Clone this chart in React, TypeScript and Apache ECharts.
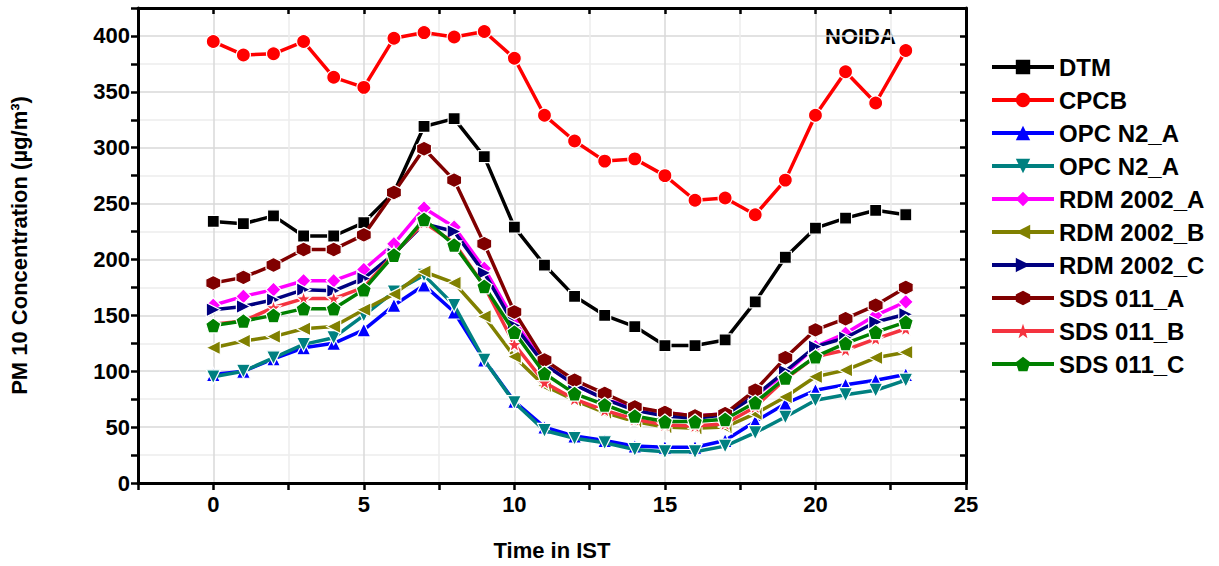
import React, { useEffect, useRef } from "react";
import * as echarts from "echarts";

const hours = [0, 1, 2, 3, 4, 5, 6, 7, 8, 9, 10, 11, 12, 13, 14, 15, 16, 17, 18, 19, 20, 21, 22, 23];

const dtm = [234, 232, 239, 221, 221, 233, 260, 319, 326, 292, 229, 195, 167, 150, 140, 123, 123, 128, 162, 202, 228, 237, 244, 240];
const cpcb = [395, 383, 384, 395, 363, 354, 398, 403, 399, 404, 380, 329, 306, 288, 290, 275, 253, 255, 240, 271, 329, 368, 340, 387];
const opcA = [97, 100, 111, 121, 125, 137, 159, 177, 153, 110, 73, 50, 42, 38, 33, 32, 32, 38, 55, 71, 83, 88, 92, 97];
const opcA2 = [95, 100, 112, 124, 130, 150, 171, 186, 159, 110, 72, 47, 40, 36, 30, 28, 28, 33, 45, 59, 74, 79, 83, 92];
const rdmA = [159, 167, 173, 181, 181, 191, 214, 246, 229, 192, 145, 106, 88, 75, 67, 63, 60, 62, 78, 98, 122, 134, 150, 162];
const rdmB = [121, 127, 131, 138, 140, 155, 169, 189, 179, 149, 113, 87, 74, 63, 55, 50, 49, 50, 62, 77, 95, 101, 112, 117];
const rdmC = [155, 158, 164, 173, 172, 183, 205, 232, 225, 188, 141, 106, 88, 75, 65, 60, 58, 61, 78, 100, 122, 130, 144, 151];
const sdsA = [179, 184, 195, 209, 209, 222, 260, 299, 271, 214, 153, 110, 92, 80, 68, 63, 60, 62, 83, 112, 137, 147, 159, 175];
const sdsB = [142, 145, 157, 165, 165, 175, 205, 233, 215, 176, 124, 90, 75, 65, 57, 52, 51, 53, 68, 93, 113, 119, 129, 138];
const sdsC = [141, 145, 150, 156, 156, 173, 204, 236, 213, 176, 135, 98, 80, 70, 60, 55, 55, 57, 72, 94, 113, 125, 135, 144];

const seriesNames = ["DTM", "CPCB", "OPC N2_A", "OPC N2_A ", "RDM 2002_A", "RDM 2002_B", "RDM 2002_C", "SDS 011_A", "SDS 011_B", "SDS 011_C"];
const seriesData = [dtm, cpcb, opcA, opcA2, rdmA, rdmB, rdmC, sdsA, sdsB, sdsC];
const seriesColors = ["#000000", "#ff0000", "#0000ff", "#008080", "#ff00ff", "#808000", "#000080", "#800000", "#f4333f", "#008000"];

const HEX = "path://M0,-10 L8.66,-5 L8.66,5 L0,10 L-8.66,5 L-8.66,-5 Z";
const STAR = "path://M0,-10 L2.35,-3.24 L9.51,-3.09 L3.8,1.24 L5.88,8.09 L0,4 L-5.88,8.09 L-3.8,1.24 L-9.51,-3.09 L-2.35,-3.24 Z";
const PENT = "path://M0,-10 L9.51,-3.09 L5.88,8.09 L-5.88,8.09 L-9.51,-3.09 Z";

const symbols = ["rect", "circle", "triangle", "triangle", "diamond", "triangle", "triangle", HEX, STAR, PENT];
const rotations = [0, 0, 0, 180, 0, 90, -90, 0, 0, 0];
const sizes = [12, 14, 14, 14, 15, 14, 14, 15, 15, 15];

const FONT = "'Liberation Sans', Arial, sans-serif";

export default function App() {
  const ref = useRef<HTMLDivElement>(null);
  useEffect(() => {
    if (!ref.current) return;
    const chart = echarts.init(ref.current, null, { renderer: "svg" });
    const series = seriesNames.map((name, i) => ({
      name,
      type: "line",
      xAxisIndex: 0,
      yAxisIndex: 0,
      data: hours.map((h, j) => [h, seriesData[i][j]]),
      symbol: symbols[i],
      symbolRotate: rotations[i],
      symbolSize: sizes[i],
      showAllSymbol: true,
      lineStyle: { color: seriesColors[i], width: 3.5 },
      itemStyle: { color: seriesColors[i], borderColor: "#ffffff", borderWidth: 1.2 },
      z: 10 + i,
    }));
    chart.setOption({
      animation: false,
      backgroundColor: "#ffffff",
      textStyle: { fontFamily: FONT },
      grid: { left: 136, right: 253, top: 8, bottom: 83, containLabel: false },
      legend: {
        left: 985,
        top: 50,
        orient: "vertical",
        itemWidth: 62,
        itemHeight: 18,
        itemGap: 9,
        lineStyle: { width: 4 },
        itemStyle: { borderWidth: 0 },
        textStyle: { fontFamily: FONT, fontWeight: "bold", fontSize: 24, lineHeight: 24, color: "#000" },
        data: seriesNames,
      },
      graphic: [
        {
          type: "text",
          left: 825,
          top: 25,
          style: { text: "NOIDA", fontFamily: FONT, fontWeight: "bold", fontSize: 22, fill: "#000" },
        },
      ],
      xAxis: [
        {
          type: "value",
          min: -2.5,
          max: 25,
          interval: 2.5,
          position: "bottom",
          name: "Time in IST",
          nameLocation: "middle",
          nameGap: 56,
          nameTextStyle: { fontFamily: FONT, fontWeight: "bold", fontSize: 22, color: "#000" },
          axisLine: { show: true, onZero: false, lineStyle: { color: "#000", width: 3 } },
          axisTick: { show: true, inside: false, length: 7, lineStyle: { color: "#000", width: 2.5 } },
          axisLabel: {
            show: true,
            margin: 10,
            fontFamily: FONT,
            fontWeight: "bold",
            fontSize: 22,
            color: "#000",
            formatter: (v: number) => (Math.abs(v % 5) < 1e-6 ? String(v) : ""),
          },
          splitLine: { show: true, lineStyle: { color: ["#ededed", "#d8d8d8"], width: 1.5 } },
        },
        {
          type: "value",
          min: -2.5,
          max: 25,
          interval: 2.5,
          position: "top",
          axisLine: { show: true, onZero: false, lineStyle: { color: "#000", width: 3 } },
          axisTick: { show: true, inside: true, length: 6, lineStyle: { color: "#000", width: 2.5 } },
          axisLabel: { show: false },
          splitLine: { show: false },
        },
      ],
      yAxis: [
        {
          type: "value",
          min: 0,
          max: 425,
          interval: 25,
          position: "left",
          name: "PM 10 Concentration (µg/m³)",
          nameLocation: "middle",
          nameGap: 108,
          nameTextStyle: { fontFamily: FONT, fontWeight: "bold", fontSize: 22, color: "#000" },
          axisLine: { show: true, onZero: false, lineStyle: { color: "#000", width: 3 } },
          axisTick: { show: true, inside: false, length: 7, lineStyle: { color: "#000", width: 2.5 } },
          axisLabel: {
            show: true,
            margin: 8,
            fontFamily: FONT,
            fontWeight: "bold",
            fontSize: 22,
            color: "#000",
            formatter: (v: number) => (v % 50 === 0 ? String(v) : ""),
          },
          splitLine: { show: true, lineStyle: { color: ["#d8d8d8", "#ededed"], width: 1.5 } },
        },
        {
          type: "value",
          min: 0,
          max: 425,
          interval: 25,
          position: "right",
          axisLine: { show: true, onZero: false, lineStyle: { color: "#000", width: 3 } },
          axisTick: { show: true, inside: true, length: 6, lineStyle: { color: "#000", width: 2.5 } },
          axisLabel: { show: false },
          splitLine: { show: false },
        },
      ],
      series,
    });
    return () => chart.dispose();
  }, []);
  return <div ref={ref} style={{ position: "absolute", left: 0, top: 0, width: 1219, height: 566 }} />;
}
